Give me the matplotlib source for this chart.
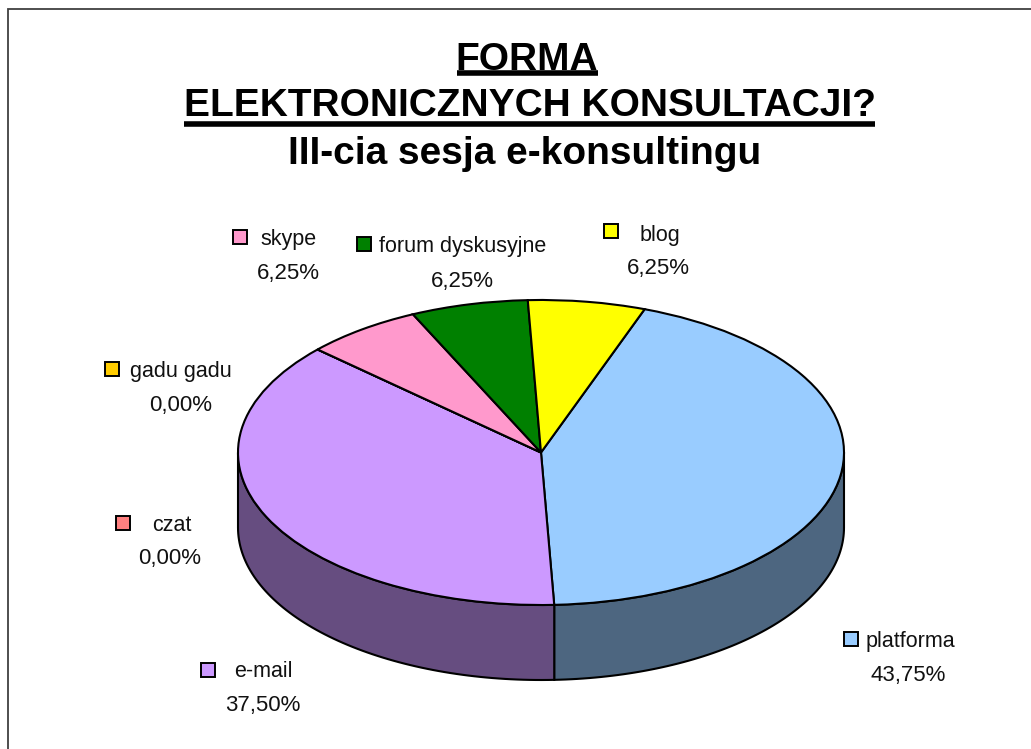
import matplotlib
matplotlib.use("Agg")
import matplotlib.pyplot as plt
from matplotlib.patches import Polygon, Rectangle
import numpy as np

plt.rcParams["font.family"] = ["Liberation Sans", "DejaVu Sans"]

# clockwise from the blog/platforma boundary
names = ["platforma", "e-mail", "czat", "gadu gadu", "skype", "forum dyskusyjne", "blog"]
values = [43.75, 37.50, 0.00, 0.00, 6.25, 6.25, 6.25]
percent_labels = ["43,75%", "37,50%", "0,00%", "0,00%", "6,25%", "6,25%", "6,25%"]
colors = ["#99CCFF", "#CC99FF", "#FF8080", "#FFCC00", "#FF99CC", "#008000", "#FFFF00"]
side_colors = ["#4D6680", "#664D80", "#804040", "#806600", "#804D66", "#004000", "#808000"]

W, H = 1031, 749
fig = plt.figure(figsize=(W / 100, H / 100), dpi=100, facecolor="white")

# background axes in pixels, for frame, titles and labels
bg = fig.add_axes([0, 0, 1, 1])
bg.set_xlim(0, W)
bg.set_ylim(H, 0)
bg.axis("off")

bg.plot([8, 8, W], [H, 9, 9], color="#404040", lw=1.3, solid_joinstyle="miter")

title_kw = dict(ha="center", va="baseline", fontweight="bold", color="black", fontsize=28)
bg.text(527, 69.5, "FORMA", **title_kw)
bg.text(530, 116.5, "ELEKTRONICZNYCH KONSULTACJI?", **title_kw)
bg.text(525, 164, "III-cia sesja e-konsultingu", **title_kw)
bg.plot([457, 598], [73, 73], color="black", lw=4, solid_capstyle="butt")
bg.plot([184, 875], [124, 124], color="black", lw=4, solid_capstyle="butt")

# pie axes: top ellipse x 238..844, y 300..605, side 75 px deep
cx, rx = 541, 303
top, ry, depth = 300, 152.5, 75
pie_ax = fig.add_axes([(cx - rx) / W, 1 - (top + 2 * ry + depth) / H,
                       2 * rx / W, (2 * ry + depth) / H])
depth_u = depth / ry
start = 70.0

angle = start
for v, c in zip(values, side_colors):
    a1 = angle
    a2 = angle - v * 3.6
    angle = a2
    # only the front half of the rim shows
    lo, hi = max(a2, -180), min(a1, 0)
    if hi <= lo:
        continue
    t = np.radians(np.linspace(lo, hi, 80))
    xs = np.cos(t)
    ys = np.sin(t)
    pts = np.r_[np.c_[xs, ys], np.c_[xs, ys - depth_u][::-1]]
    pie_ax.add_patch(Polygon(pts, closed=True, facecolor=c, edgecolor="black", lw=1.5))

pie_ax.pie(values, colors=colors, startangle=start, counterclock=False, radius=1,
           wedgeprops=dict(edgecolor="black", linewidth=1.5))
pie_ax.set_aspect("auto")
pie_ax.set_xlim(-1, 1)
pie_ax.set_ylim(-1 - depth_u, 1)
pie_ax.patch.set_visible(False)
for p in pie_ax.patches + pie_ax.lines:
    p.set_clip_on(False)

# label positions: marker left edge/top, text centre x and baseline for name and percent
label_pos = {
    "platforma": (844, 632, 910, 647, 908, 681),
    "e-mail": (201, 663, 263, 677, 263, 711),
    "czat": (116, 516, 172, 531, 170, 564),
    "gadu gadu": (105, 362, 181, 377, 181, 411),
    "skype": (233, 230, 289, 245, 288, 279),
    "forum dyskusyjne": (357, 237, 463, 252, 462, 287),
    "blog": (604, 224, 660, 241, 658, 274),
}
for i, n in enumerate(names):
    mx, my, nx, ny, px, py = label_pos[n]
    bg.add_patch(Rectangle((mx, my), 14, 14, facecolor=colors[i], edgecolor="black", lw=1.4))
    bg.text(nx, ny, n, fontsize=15.5, ha="center", va="baseline", color="#111111")
    bg.text(px, py, percent_labels[i], fontsize=16, ha="center", va="baseline", color="#111111")

fig.savefig("out.png", dpi=100, facecolor="white")
